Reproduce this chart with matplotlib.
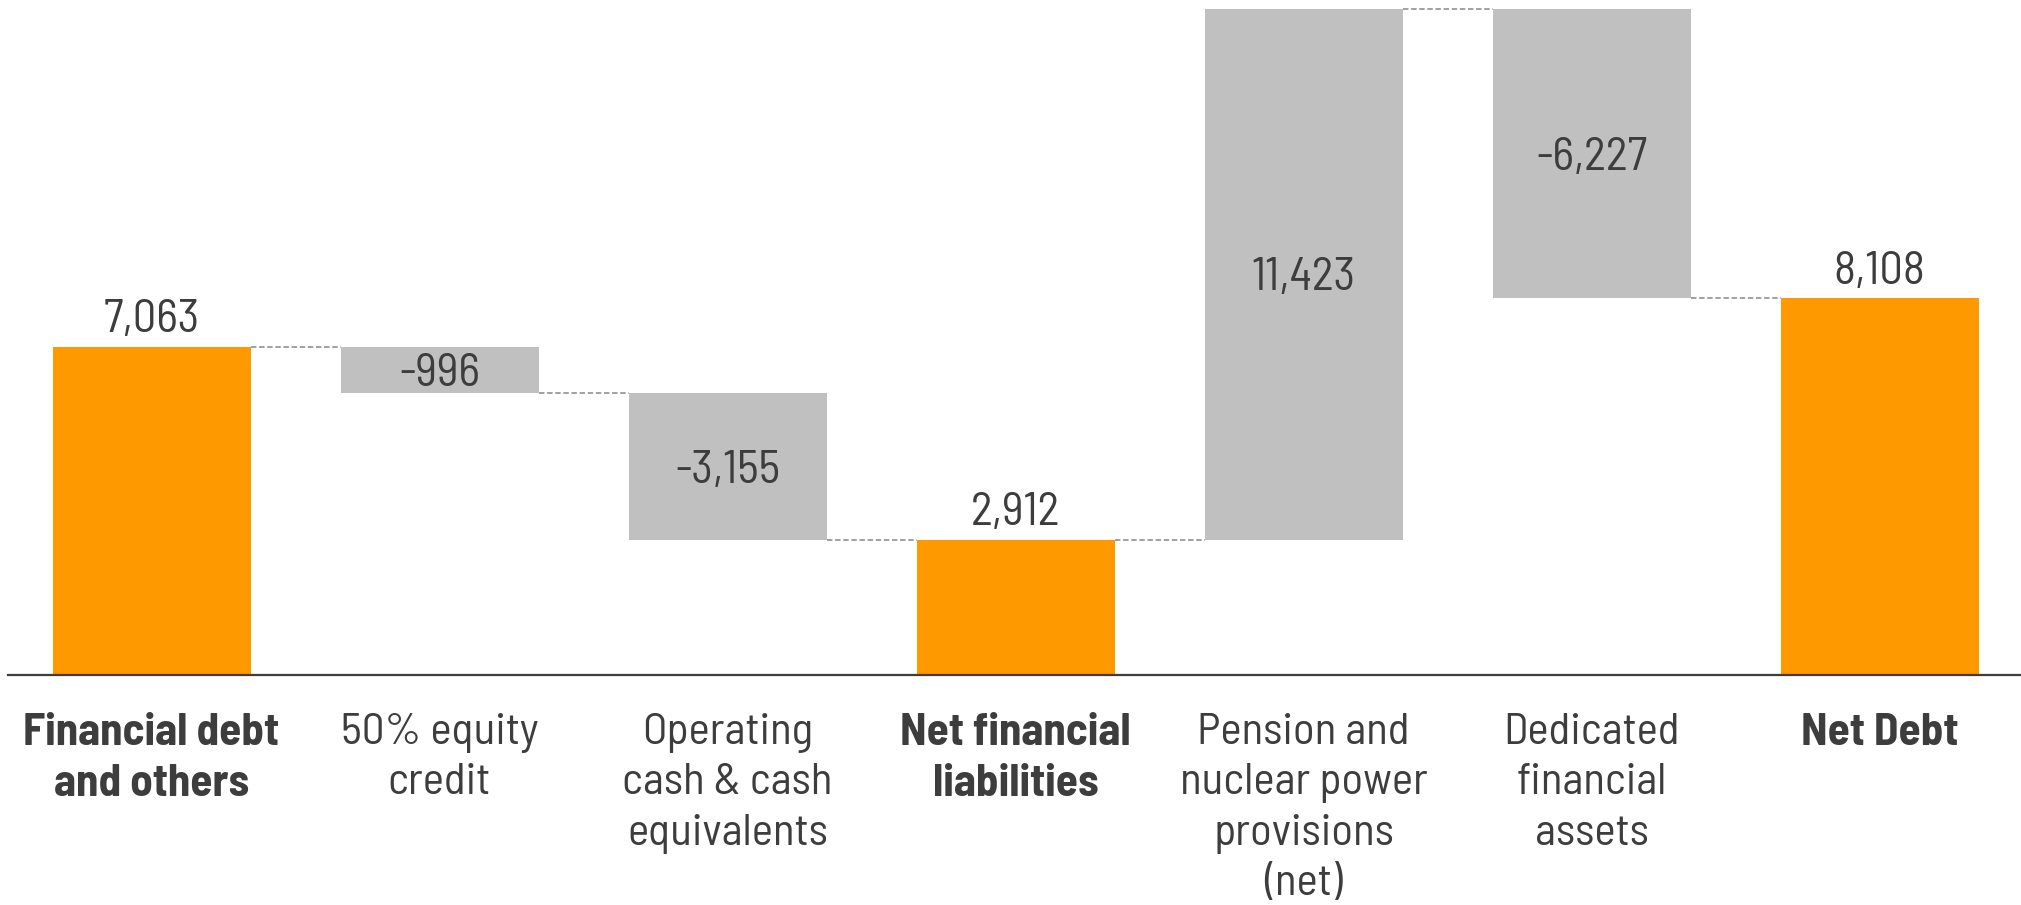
import matplotlib
matplotlib.use("Agg")
import matplotlib.pyplot as plt

categories = ["Financial debt\nand others", "50% equity\ncredit", "Operating\ncash & cash\nequivalents",
              "Net financial\nliabilities", "Pension and\nnuclear power\nprovisions\n(net)",
              "Dedicated\nfinancial\nassets", "Net Debt"]
values = [7063, -996, -3155, 2912, 11423, -6227, 8108]
is_total = [True, False, False, True, False, False, True]

ORANGE = "#FF9900"
GRAY = "#C0C0C0"
TEXT = "#3d3d3d"
FONT = ["Barlow Semi Condensed", "DejaVu Sans"]
plt.rcParams['font.family'] = FONT

fig = plt.figure(figsize=(20.21, 9.05), dpi=100)
W = 0.6875

# compute bar extents
bottoms, heights, levels = [], [], []
level = 0
for v, t in zip(values, is_total):
    if t:
        bottoms.append(0); heights.append(v); level = v
    else:
        new = level + v
        bottoms.append(min(level, new)); heights.append(abs(v)); level = new
    levels.append(level)
top_max = max(b + h for b, h in zip(bottoms, heights))

ax = fig.add_axes([7.5/2021, 0.2541, 2016/2021, (1 - 9/905) - 0.2541])
x = list(range(len(values)))
colors = [ORANGE if t else GRAY for t in is_total]
ax.bar(x, heights, bottom=bottoms, width=W, color=colors, linewidth=0, zorder=2)

# connectors
for i in range(len(values) - 1):
    ax.plot([i + W/2, i + 1 - W/2], [levels[i], levels[i]], color="#9a9a9a",
            lw=1.3, ls=(0, (3, 1.5)), zorder=1, clip_on=False)

# value labels
for i, (v, t) in enumerate(zip(values, is_total)):
    lab = f"{v:,}"
    if t:
        ax.annotate(lab, xy=(i, bottoms[i] + heights[i]), xytext=(0, 10.5), textcoords="offset points",
                    ha="center", va="baseline", fontsize=33.5, color=TEXT, fontweight="normal")
    else:
        ax.annotate(lab, xy=(i, bottoms[i] + heights[i]/2), xytext=(0, -11.6), textcoords="offset points",
                    ha="center", va="baseline", fontsize=33.5, color=TEXT, fontweight="normal")

# category labels
for i, (c, t) in enumerate(zip(categories, is_total)):
    ax.annotate(c, xy=(i, 0), xytext=(0, -27), textcoords="offset points",
                ha="center", va="top", fontsize=32.5, color=TEXT,
                fontweight="bold" if t else "normal", linespacing=1.34, multialignment="center",
                annotation_clip=False)

ax.set_xlim(-0.5, 6.5)
ax.set_ylim(0, top_max)
for s in ["top", "left", "right"]:
    ax.spines[s].set_visible(False)
ax.spines["bottom"].set_color(TEXT)
ax.spines["bottom"].set_linewidth(1.6)
ax.spines["bottom"].set_zorder(3)
ax.set_xticks([]); ax.set_yticks([])
ax.patch.set_alpha(0)

fig.savefig("out.png", dpi=100)
